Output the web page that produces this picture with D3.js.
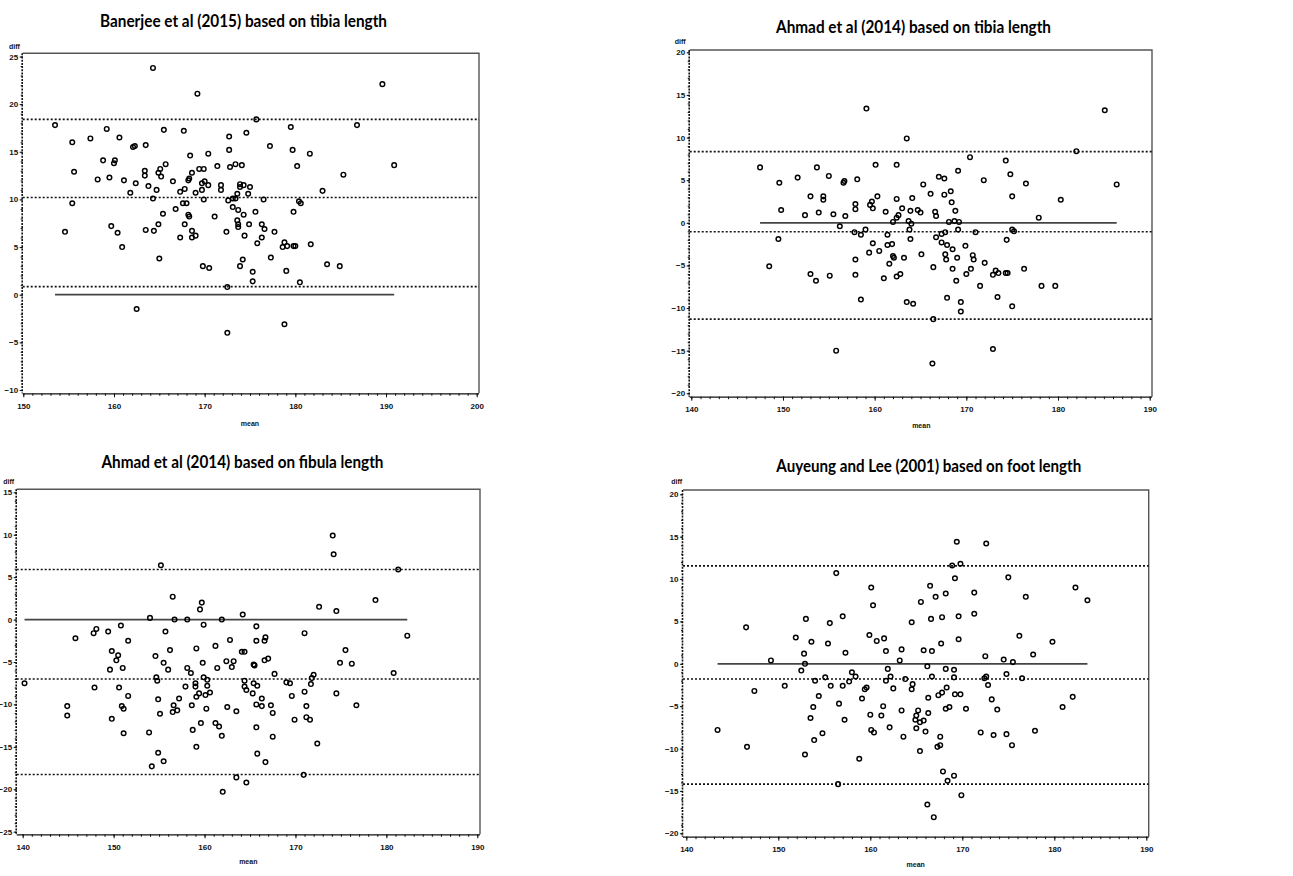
<!DOCTYPE html>
<html>
<head>
<meta charset="utf-8">
<script src="https://cdn.jsdelivr.net/npm/d3@7"></script>
<style>
body { margin: 0; background: #fff; }
svg { display: block; }
</style>
</head>
<body>
<script>
const W = 1293, H = 876;

// ---- data: [mean, diff] ----
const banerjeeTibia = [[164.3,23.8],[169.2,21.1],[189.6,22.1],[153.5,17.8],[159.2,17.4],[175.7,18.4],[186.8,17.8],[179.5,17.6],[165.5,17.3],[167.7,17.2],[174.6,17.0],[157.4,16.4],[160.6,16.5],[172.7,16.6],[155.4,16.0],[162.1,15.5],[162.3,15.6],[163.5,15.7],[177.2,15.6],[172.7,15.2],[179.7,15.2],[158.8,14.1],[160.1,14.1],[160.0,13.8],[168.4,14.6],[170.4,14.8],[181.6,14.8],[155.6,12.9],[163.4,13.0],[163.4,12.5],[165.1,13.2],[165.2,12.4],[165.7,13.7],[169.4,13.2],[169.9,13.2],[171.4,13.5],[172.8,13.4],[173.4,13.7],[174.1,13.6],[180.2,13.5],[190.9,13.6],[185.3,12.6],[158.2,12.1],[159.5,12.3],[161.1,12.0],[164.9,12.8],[166.5,11.9],[168.2,12.0],[168.3,12.2],[168.6,12.8],[162.4,11.7],[163.8,11.4],[164.7,11.0],[167.3,10.8],[167.8,11.1],[169.0,10.7],[169.7,11.0],[169.7,11.7],[170.0,11.9],[170.4,11.5],[171.8,11.5],[171.8,11.0],[173.6,10.6],[173.9,11.6],[174.3,11.5],[173.9,11.3],[175.0,11.3],[174.8,10.6],[161.8,10.7],[183.0,10.9],[155.4,9.6],[164.3,10.1],[169.9,10.0],[172.6,9.9],[173.1,10.1],[173.4,10.1],[176.5,10.0],[180.4,9.8],[180.6,9.6],[167.6,9.6],[168.0,9.6],[165.4,8.5],[166.8,9.0],[173.1,9.2],[173.7,8.9],[168.2,8.4],[168.3,8.2],[171.1,8.2],[174.3,8.4],[175.6,8.7],[179.8,8.7],[173.6,7.8],[173.7,7.4],[173.7,7.1],[159.7,7.2],[164.9,7.4],[167.8,7.4],[174.9,7.4],[176.3,7.4],[176.6,6.9],[177.7,6.6],[154.6,6.6],[160.4,6.5],[163.5,6.8],[164.4,6.7],[168.6,6.7],[172.4,6.6],[167.3,6.0],[168.6,6.0],[169.0,6.2],[174.4,6.2],[176.3,6.0],[175.8,5.4],[160.9,5.0],[178.6,5.0],[178.8,5.5],[179.1,5.1],[179.8,5.1],[180.0,5.1],[181.7,5.3],[165.0,3.8],[177.3,3.9],[174.2,3.7],[173.9,3.0],[169.8,3.0],[170.5,2.8],[183.5,3.2],[184.9,3.0],[175.3,2.4],[179.0,2.5],[175.3,1.4],[180.5,1.3],[172.5,0.8],[162.5,-1.5],[172.5,-4.0],[178.8,-3.1]];
const banerjeeLimits = [18.4, 10.2, 0.85];

const ahmadTibia = [[159.1,13.4],[185.1,13.2],[163.5,9.9],[182.0,8.4],[147.5,6.5],[153.7,6.5],[160.1,6.8],[162.4,6.8],[170.4,7.7],[174.3,7.3],[174.8,5.7],[151.6,5.3],[155.0,5.5],[156.6,4.7],[156.7,4.9],[158.1,5.1],[149.6,4.7],[167.0,5.4],[167.6,5.2],[169.1,6.1],[171.9,5.0],[176.5,4.6],[186.4,4.5],[165.3,4.5],[166.1,3.4],[167.6,3.3],[168.3,3.7],[153.0,3.1],[154.4,3.1],[154.4,2.7],[160.3,3.1],[162.4,2.8],[164.1,2.9],[175.0,3.1],[180.3,2.7],[157.9,2.2],[159.7,2.5],[159.5,2.1],[159.8,1.7],[157.9,1.6],[168.4,2.4],[149.8,1.5],[153.9,1.2],[152.4,0.9],[155.5,1.0],[156.8,0.8],[161.2,1.3],[163.0,1.7],[162.6,0.9],[162.4,0.6],[163.9,1.4],[164.7,1.5],[165.0,1.2],[166.6,1.3],[166.7,0.8],[168.8,1.4],[177.9,0.6],[156.2,-0.4],[162.0,0.1],[163.7,0.2],[164.0,-0.1],[168.1,0.1],[168.7,0.2],[169.2,0.1],[149.5,-1.9],[157.8,-1.1],[158.5,-1.4],[159.0,-0.8],[163.8,-0.8],[163.9,-1.9],[161.4,-1.4],[159.8,-2.4],[166.7,-1.7],[167.3,-1.3],[167.7,-1.1],[169.1,-0.8],[171.0,-1.1],[175.0,-0.8],[175.2,-1.0],[174.4,-2.0],[159.4,-3.5],[160.5,-3.3],[161.4,-2.6],[161.9,-2.5],[162.0,-3.9],[162.1,-4.1],[163.2,-4.1],[165.1,-3.7],[167.3,-2.3],[167.9,-2.6],[168.5,-3.1],[167.7,-3.7],[167.8,-4.3],[169.0,-4.1],[169.9,-2.7],[170.7,-3.8],[170.8,-4.3],[157.9,-4.3],[161.6,-4.8],[172.0,-4.7],[148.5,-5.1],[166.4,-5.2],[168.5,-5.4],[170.5,-5.4],[173.2,-5.6],[176.3,-5.4],[153.0,-6.0],[153.6,-6.8],[155.1,-6.2],[157.9,-6.1],[161.0,-6.5],[162.4,-6.3],[162.8,-6.0],[168.9,-6.8],[170.0,-6.0],[172.9,-6.1],[173.5,-5.9],[174.3,-5.9],[174.5,-5.9],[171.5,-7.4],[178.2,-7.4],[179.7,-7.4],[158.5,-9.0],[163.5,-9.3],[164.2,-9.5],[167.9,-8.8],[169.4,-9.3],[169.4,-10.4],[173.4,-8.7],[175.0,-9.8],[166.4,-11.3],[155.8,-15.0],[172.9,-14.8],[166.3,-16.5]];
const ahmadTibiaLimits = [8.35, -1.05, -11.3];

const ahmadFibula = [[174.1,9.9],[174.2,7.7],[155.2,6.4],[181.3,5.9],[156.5,2.7],[159.7,2.0],[159.5,1.2],[172.6,1.5],[178.8,2.3],[174.5,1.0],[164.2,0.6],[154.0,0.2],[156.7,0.0],[158.1,0.0],[161.9,0.0],[140.2,-7.5],[144.9,-10.2],[144.9,-11.3],[145.8,-2.2],[147.8,-1.6],[148.1,-1.1],[149.4,-1.4],[150.8,-0.7],[151.6,-2.5],[149.8,-3.7],[150.5,-4.2],[150.3,-4.8],[149.6,-5.9],[151.0,-5.7],[147.9,-8.0],[150.6,-8.0],[150.9,-10.2],[151.1,-10.5],[151.6,-9.0],[149.8,-11.7],[151.1,-13.4],[154.6,-4.3],[154.7,-6.8],[154.8,-7.2],[154.9,-9.4],[155.1,-11.1],[153.9,-13.3],[154.2,-17.3],[154.9,-15.7],[155.5,-16.7],[155.7,-1.4],[155.5,-5.1],[156.0,-5.9],[156.2,-3.6],[156.6,-10.1],[156.5,-10.9],[157.0,-10.7],[157.2,-9.3],[158.1,-5.7],[157.9,-7.9],[158.5,-6.3],[159.1,-3.4],[159.0,-7.9],[159.0,-7.5],[159.1,-9.1],[159.4,-8.7],[158.6,-10.1],[158.7,-13.0],[159.1,-15.0],[159.6,-12.2],[159.9,-0.6],[159.8,-5.1],[159.9,-6.8],[160.3,-7.1],[160.3,-7.8],[160.1,-8.9],[160.6,-8.6],[160.2,-10.5],[161.2,-3.1],[161.4,-5.7],[161.2,-12.2],[161.6,-12.6],[161.9,-13.7],[162.4,-4.9],[162.8,-2.4],[163.0,-5.6],[163.2,-4.9],[162.5,-10.3],[163.5,-10.8],[163.5,-18.6],[162.0,-20.3],[164.6,-19.2],[164.1,-3.8],[164.4,-3.8],[164.4,-7.2],[164.4,-7.9],[164.6,-8.3],[165.3,-8.7],[165.4,-5.3],[165.5,-5.4],[165.4,-7.5],[165.8,-7.8],[165.7,-0.8],[165.7,-2.5],[165.7,-10.0],[166.3,-10.2],[165.7,-12.7],[165.8,-15.8],[166.3,-9.3],[166.6,-2.5],[166.7,-2.1],[166.6,-4.8],[167.0,-4.6],[167.3,-10.1],[167.5,-11.0],[167.5,-13.8],[166.7,-16.8],[167.7,-6.4],[169.0,-7.4],[169.4,-7.5],[169.6,-9.0],[169.9,-11.8],[171.0,-1.6],[171.0,-8.5],[171.2,-10.2],[171.2,-11.5],[171.6,-11.8],[171.7,-7.6],[171.8,-6.9],[172.0,-6.5],[172.4,-14.6],[170.9,-18.3],[174.5,-8.7],[174.9,-5.1],[175.5,-3.6],[176.2,-5.2],[176.7,-10.1],[180.8,-6.3],[182.3,-1.9]];
const ahmadFibulaLimits = [5.9, -7.0, -18.25];

const auyeungFoot = [[169.4,14.4],[172.6,14.2],[168.9,11.6],[169.8,11.8],[156.3,10.7],[169.2,10.1],[175.0,10.2],[160.1,9.0],[166.5,9.2],[182.3,9.0],[168.2,8.3],[171.3,8.4],[167.1,7.9],[176.9,7.9],[183.6,7.5],[165.5,7.3],[160.3,6.9],[171.3,5.9],[157.0,5.6],[153.0,5.3],[167.8,5.5],[169.6,5.6],[166.6,5.3],[155.6,4.8],[164.5,4.9],[146.5,4.3],[176.2,3.3],[159.9,3.4],[151.9,3.1],[161.5,3.0],[160.7,2.7],[169.6,2.9],[179.8,2.6],[153.6,2.6],[155.4,2.4],[167.7,2.4],[163.4,1.7],[161.7,1.5],[165.8,1.6],[166.7,1.5],[157.3,1.3],[152.8,1.2],[177.7,1.1],[172.5,0.9],[149.2,0.4],[163.2,0.4],[174.5,0.5],[175.5,0.2],[152.9,0.0],[152.5,-0.8],[166.2,-0.3],[161.9,-0.6],[168.2,-0.6],[169.1,-0.7],[158.0,-1.0],[174.8,-1.2],[158.4,-1.5],[155.1,-1.6],[162.2,-1.5],[166.7,-1.5],[169.1,-1.6],[172.4,-1.7],[172.6,-1.5],[176.5,-1.7],[154.0,-2.0],[161.7,-2.0],[163.8,-1.8],[157.7,-2.1],[172.8,-2.5],[164.6,-2.4],[150.7,-2.6],[155.7,-2.6],[157.0,-2.6],[159.6,-2.8],[159.4,-3.0],[162.5,-2.9],[168.3,-2.8],[164.5,-3.0],[147.4,-3.2],[167.8,-3.4],[167.4,-3.7],[169.2,-3.6],[169.8,-3.6],[154.4,-3.8],[166.3,-4.0],[159.1,-4.1],[173.2,-4.2],[182.0,-3.9],[153.8,-5.1],[156.6,-4.7],[161.4,-5.0],[168.2,-5.3],[168.6,-5.1],[170.4,-5.3],[180.9,-5.1],[173.8,-5.4],[163.4,-5.5],[165.2,-5.5],[166.3,-5.8],[165.0,-6.1],[160.0,-6.0],[161.2,-6.1],[153.5,-6.4],[157.2,-6.6],[165.8,-6.7],[164.9,-6.6],[165.4,-6.9],[143.4,-7.8],[160.1,-7.8],[160.4,-8.1],[162.1,-7.5],[165.0,-7.6],[166.0,-8.0],[154.8,-8.2],[172.0,-8.1],[173.4,-8.4],[174.8,-8.3],[177.9,-7.9],[163.6,-8.6],[167.6,-8.6],[153.9,-9.0],[146.6,-9.8],[167.3,-9.8],[167.6,-9.6],[175.4,-9.6],[165.4,-10.3],[152.9,-10.7],[158.8,-11.2],[167.9,-12.7],[169.1,-13.2],[168.4,-13.8],[156.5,-14.2],[169.9,-15.5],[166.2,-16.6],[166.9,-18.1]];
const auyeungLimits = [11.55, -1.8, -14.2];

const titles = [
  "Banerjee et al (2015) based on tibia length",
  "Ahmad et al (2014) based on tibia length",
  "Ahmad et al (2014) based on fibula length",
  "Auyeung and Lee (2001) based on foot length"
];
const xTicks1 = [150, 160, 170, 180, 190, 200];
const xTicks2 = [140, 150, 160, 170, 180, 190];
const yTicks1 = [-10, -5, 0, 5, 10, 15, 20, 25];
const yTicks2 = [-20, -15, -10, -5, 0, 5, 10, 15, 20];
const yTicks3 = [-25, -20, -15, -10, -5, 0, 5, 10, 15];

// ---- layout for each panel ----
const panels = [
  { title: titles[0], pts: banerjeeTibia, limits: banerjeeLimits, xTicks: xTicks1, yTicks: yTicks1,
    left: 23.3, right: 476.7, top: 56.5, bottom: 390, fL: 22.7, fR: 479, fT: 53.3, fB: 393.3,
    tx: 243.5, ty: 26.7, tw: 287, dx: 9, dy: 49, mx: 250, my: 426 },
  { title: titles[1], pts: ahmadTibia, limits: ahmadTibiaLimits, xTicks: xTicks2, yTicks: yTicks2,
    left: 691.3, right: 1149.7, top: 52.3, bottom: 393.3, fL: 689.7, fR: 1152, fT: 50, fB: 396.7,
    tx: 913.5, ty: 33.3, tw: 275, dx: 674.7, dy: 44.3, mx: 921.3, my: 428.3 },
  { title: titles[2], pts: ahmadFibula, limits: ahmadFibulaLimits, xTicks: xTicks2, yTicks: yTicks3,
    left: 22.7, right: 477.3, top: 492.3, bottom: 831.7, fL: 16.7, fR: 480, fT: 489.3, fB: 834.3,
    tx: 242.5, ty: 468.3, tw: 282, dx: 3.3, dy: 484, mx: 248.3, my: 864.3 },
  { title: titles[3], pts: auyeungFoot, limits: auyeungLimits, xTicks: xTicks2, yTicks: yTicks2,
    left: 686.3, right: 1146.3, top: 494.3, bottom: 833.3, fL: 683, fR: 1148.7, fT: 490, fB: 836.7,
    tx: 928.8, ty: 472.3, tw: 305, dx: 671.3, dy: 484.3, mx: 915.7, my: 866.7 }
];

const svg = d3.select("body").append("svg")
    .attr("width", W)
    .attr("height", H);

function drawPanel(p) {
    const xDom = d3.extent(p.xTicks), yDom = d3.extent(p.yTicks);
    const x = d3.scaleLinear().domain(xDom).range([p.left, p.right]);
    const y = d3.scaleLinear().domain(yDom).range([p.bottom, p.top]);
    const g = svg.append("g");

    // title
    g.append("text")
        .attr("x", p.tx).attr("y", p.ty)
        .attr("text-anchor", "middle")
        .attr("textLength", p.tw).attr("lengthAdjust", "spacingAndGlyphs")
        .style("font", "bold 16.5px Lato, 'Open Sans', sans-serif")
        .attr("fill", "#000")
        .text(p.title);

    // top and right frame
    g.append("path")
        .attr("d", `M${p.fL},${p.fT}H${p.fR}V${p.fB}`)
        .attr("fill", "none")
        .attr("stroke", "#555")
        .attr("stroke-width", 1.4);

    // limits of agreement + mean difference
    g.selectAll("line.lim").data(p.limits).join("line")
        .attr("class", "lim")
        .attr("x1", p.fL).attr("x2", p.fR)
        .attr("y1", d => y(d)).attr("y2", d => y(d))
        .attr("stroke", "#111")
        .attr("stroke-width", 1.6)
        .attr("stroke-dasharray", "2,2");

    // zero line across the range of means
    const ext = d3.extent(p.pts, d => d[0]);
    g.append("line")
        .attr("x1", x(ext[0])).attr("x2", x(ext[1]))
        .attr("y1", y(0)).attr("y2", y(0))
        .attr("stroke", "#444")
        .attr("stroke-width", 1.7);

    // points
    g.selectAll("circle").data(p.pts).join("circle")
        .attr("cx", d => x(d[0]))
        .attr("cy", d => y(d[1]))
        .attr("r", 2.3)
        .attr("fill", "none")
        .attr("stroke", "#000")
        .attr("stroke-width", 1.45);

    // x axis: minor then major ticks
    const xMinor = d3.range(xDom[0], xDom[1] + 0.5, 1);
    g.append("g").attr("transform", `translate(0,${p.fB})`)
        .call(d3.axisBottom(x).tickValues(xMinor).tickSize(2.5).tickSizeOuter(0).tickFormat(""))
        .call(a => a.select(".domain").remove());
    const xa = g.append("g").attr("transform", `translate(0,${p.fB})`)
        .call(d3.axisBottom(x).tickValues(p.xTicks).tickSize(4).tickSizeOuter(0).tickPadding(6));
    xa.select(".domain").attr("d", `M${p.fL},0.5H${p.fR}`).attr("stroke", "#111").attr("stroke-width", 1.3);

    // y axis
    const yMinor = d3.range(yDom[0], yDom[1] + 0.25, 1);
    g.append("g").attr("transform", `translate(${p.fL},0)`)
        .call(d3.axisLeft(y).tickValues(yMinor).tickSize(2).tickSizeOuter(0).tickFormat(""))
        .call(a => a.select(".domain").remove());
    const ya = g.append("g").attr("transform", `translate(${p.fL},0)`)
        .call(d3.axisLeft(y).tickValues(p.yTicks).tickSize(3).tickSizeOuter(0).tickPadding(1.5));
    ya.select(".domain").attr("d", `M-0.5,${p.fT}V${p.fB}`)
        .attr("stroke", "#111").attr("stroke-width", 1.6).attr("stroke-dasharray", "2,1.2");

    g.selectAll(".tick text")
        .style("font", "bold 8px 'Liberation Sans', Arial, sans-serif")
        .attr("fill", "#111");
    g.selectAll(".tick line").attr("stroke", "#111");

    // axis labels
    g.append("text")
        .attr("x", p.dx).attr("y", p.dy)
        .style("font", "bold 7px 'Liberation Sans', Arial, sans-serif")
        .attr("fill", "#111")
        .text("diff");
    g.append("text")
        .attr("x", p.mx).attr("y", p.my)
        .attr("text-anchor", "middle")
        .style("font", "bold 7px 'Liberation Sans', Arial, sans-serif")
        .attr("fill", "#111")
        .text("mean");
}

panels.forEach(drawPanel);
</script>
</body>
</html>
